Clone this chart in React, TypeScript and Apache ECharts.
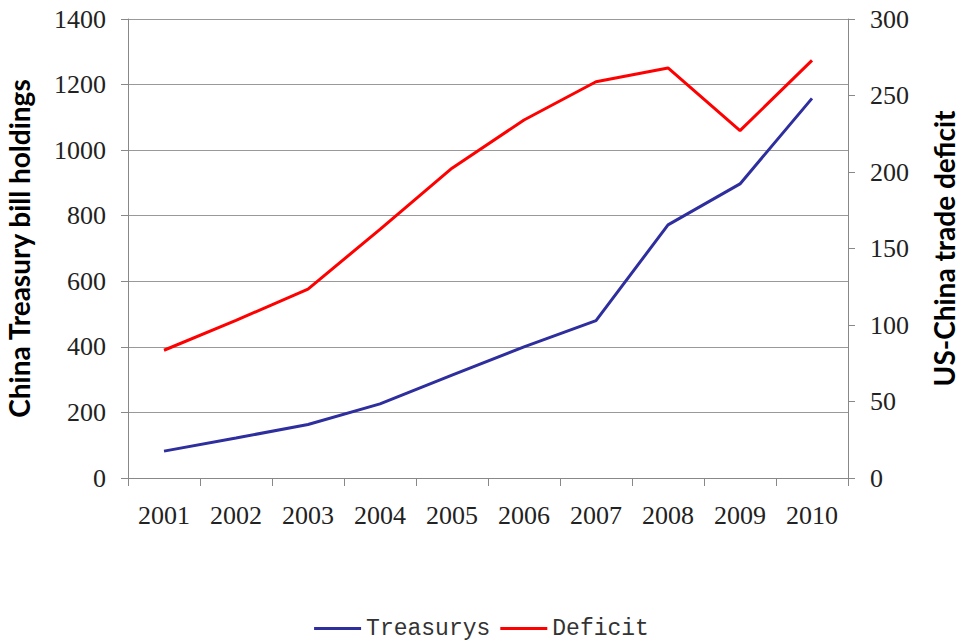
import React, { useEffect, useRef } from "react";
import * as echarts from "echarts";

const years = ["2001", "2002", "2003", "2004", "2005", "2006", "2007", "2008", "2009", "2010"];
const treasurys = [82, 122, 163, 226, 314, 400, 480, 772, 897, 1158];
const deficit = [83.5, 103, 123.5, 162.5, 202.5, 234, 259, 268, 227, 273];

export default function App() {
  const ref = useRef<HTMLDivElement>(null);
  useEffect(() => {
    document.body.style.margin = "0";
    const chart = echarts.init(ref.current!, null, { renderer: "svg" });
    const tickFont = { fontFamily: "Liberation Serif", fontSize: 26, color: "#222" };
    const titleFont = { fontFamily: "Lato", fontWeight: "bold" as const, fontSize: 28, color: "#000" };
    const plain = (v: number) => String(v);
    chart.setOption({
      animation: false,
      backgroundColor: "#fff",
      grid: { left: 128, right: 115, top: 19, bottom: 162, containLabel: false, outerBoundsMode: "none" },
      legend: {
        top: 612,
        left: "center",
        icon: "rect",
        itemWidth: 47,
        itemHeight: 3,
        itemGap: 10,
        textStyle: { fontFamily: "Liberation Mono", fontSize: 23, color: "#333" },
        data: ["Treasurys", "Deficit"],
      },
      xAxis: {
        type: "category",
        data: years,
        boundaryGap: true,
        axisLine: { lineStyle: { color: "#888", width: 1 } },
        axisTick: { show: true, length: 8, lineStyle: { color: "#888" } },
        axisLabel: { ...tickFont, margin: 24 },
      },
      yAxis: [
        {
          type: "value",
          min: 0,
          max: 1400,
          interval: 200,
          name: "China Treasury bill holdings",
          nameLocation: "middle",
          nameGap: 95,
          nameTextStyle: titleFont,
          axisLine: { show: true, lineStyle: { color: "#888" } },
          axisTick: { show: true, length: 7, lineStyle: { color: "#888" } },
          axisLabel: { ...tickFont, margin: 22, formatter: plain },
          splitLine: { show: true, lineStyle: { color: "#999", width: 1 } },
        },
        {
          type: "value",
          min: 0,
          max: 300,
          interval: 50,
          position: "right",
          name: "US-China trade deficit",
          nameLocation: "middle",
          nameGap: 82,
          nameRotate: 90,
          nameTextStyle: titleFont,
          axisLine: { show: true, lineStyle: { color: "#888" } },
          axisTick: { show: true, length: 7, lineStyle: { color: "#888" } },
          axisLabel: { ...tickFont, margin: 22, formatter: plain },
          splitLine: { show: false },
        },
      ],
      series: [
        {
          name: "Treasurys",
          type: "line",
          data: treasurys,
          yAxisIndex: 0,
          showSymbol: false,
          symbol: "none",
          lineStyle: { color: "#2e2e9e", width: 3 },
          itemStyle: { color: "#2e2e9e" },
        },
        {
          name: "Deficit",
          type: "line",
          data: deficit,
          yAxisIndex: 1,
          showSymbol: false,
          symbol: "none",
          lineStyle: { color: "#ff0000", width: 3 },
          itemStyle: { color: "#ff0000" },
        },
      ],
    });
    return () => chart.dispose();
  }, []);
  return <div ref={ref} style={{ width: 963, height: 640 }} />;
}
